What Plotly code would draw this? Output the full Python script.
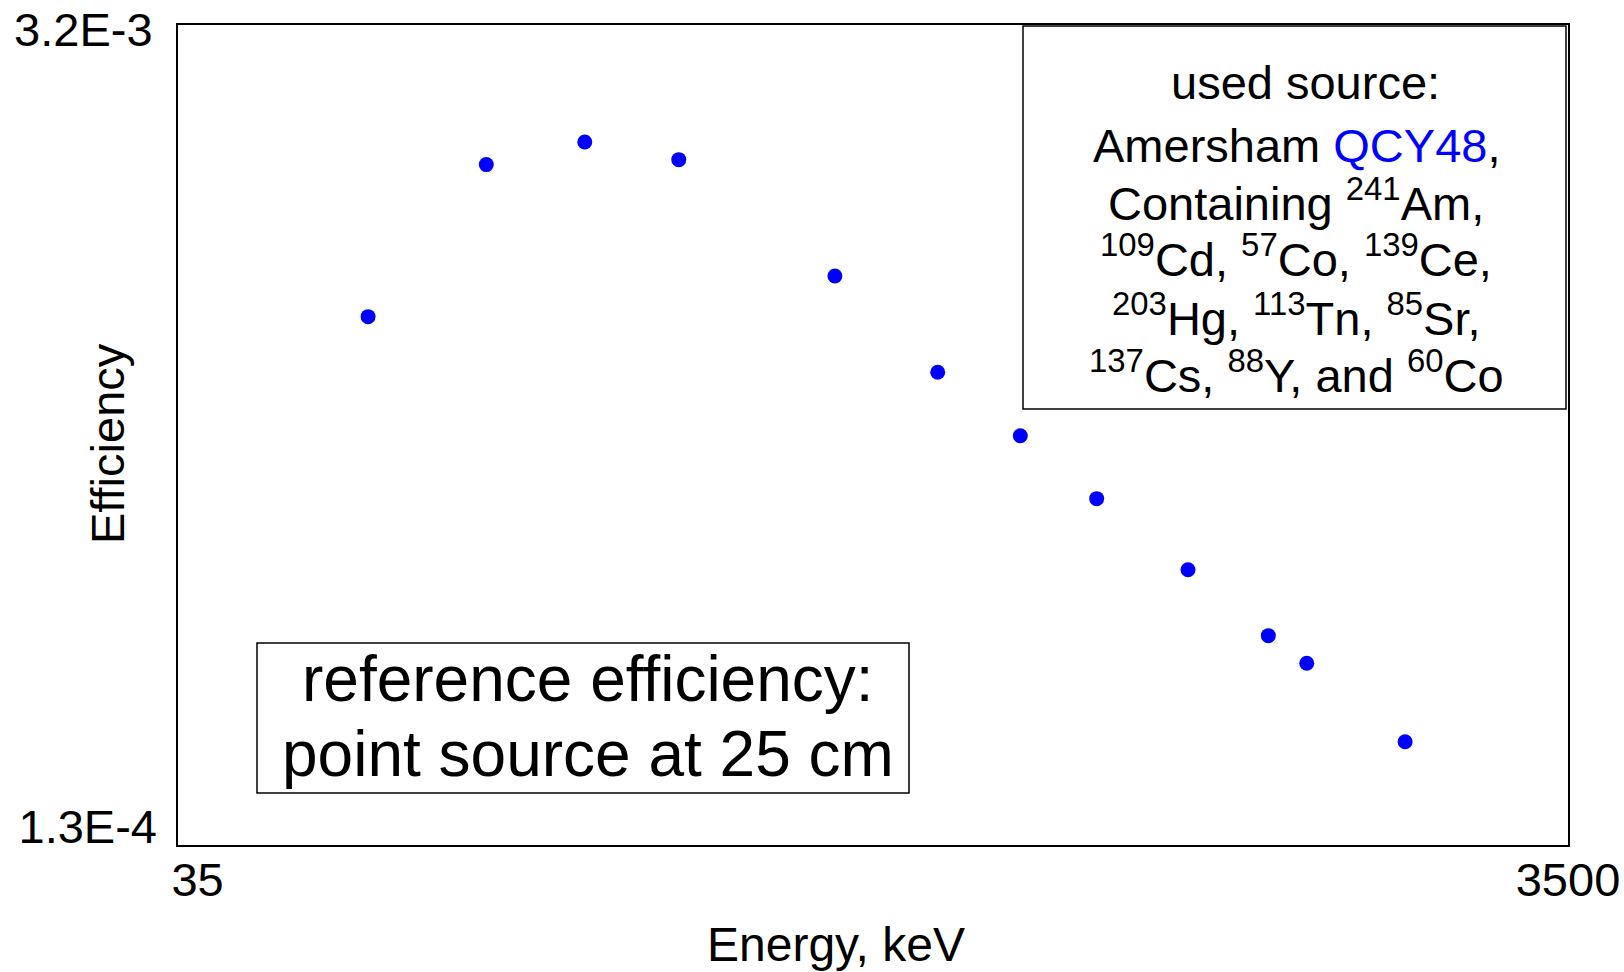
import math
import plotly.graph_objects as go

# ---------------- data ----------------
energy_kev = [65.7, 97.2, 134.7, 183.9, 308.5, 433.7, 570.2, 734.4,
              993.8, 1296.8, 1472.9, 2040.3]
efficiency = [1.024e-3, 1.855e-3, 2.026e-3, 1.891e-3, 1.200e-3, 8.24e-4,
              6.43e-4, 5.03e-4, 3.81e-4, 2.945e-4, 2.644e-4, 1.946e-4]

x_range = [35, 3500]
y_range = [1.3e-4, 3.2e-3]
x_tick_labels = ["35", "3500"]
y_tick_labels = ["1.3E-4", "3.2E-3"]
x_title = "Energy, keV"
y_title = "Efficiency"

source_lines = [
    "used source:",
    "Amersham <span style='color:#0000ff'>QCY48</span>,",
    "Containing <sup>241</sup>Am,",
    "<sup>109</sup>Cd, <sup>57</sup>Co, <sup>139</sup>Ce,",
    "<sup>203</sup>Hg, <sup>113</sup>Tn, <sup>85</sup>Sr,",
    "<sup>137</sup>Cs, <sup>88</sup>Y, and <sup>60</sup>Co",
]
reference_lines = ["reference efficiency:", "point source at 25 cm"]

# ---------------- layout helpers (pixel -> paper) ----------------
W, H = 1624, 972
L, R, T, B = 178, 1568, 25, 845
FONT = "Liberation Sans, Arial, Helvetica, sans-serif"
EPS = 1e-6


def px(x):
    return (x - L) / (R - L)


def py(y):
    return (B - y) / (B - T)


xr = [math.log10(x_range[0]) - EPS, math.log10(x_range[1]) + EPS]
yr = [math.log10(y_range[0]) - EPS, math.log10(y_range[1]) + EPS]

fig = go.Figure()
fig.add_trace(go.Scatter(
    x=energy_kev, y=efficiency, mode="markers",
    marker=dict(color="#0000ff", size=15, line=dict(width=0)),
    showlegend=False, hoverinfo="x+y",
))

axis_common = dict(
    type="log", showgrid=False, zeroline=False, ticks="", automargin=False,
    ticklabeloverflow="allow",
    tickfont=dict(family=FONT, size=47, color="black"),
)

fig.update_layout(
    width=W, height=H,
    margin=dict(l=L, r=W - R, t=T, b=H - B, pad=0, autoexpand=False),
    paper_bgcolor="white", plot_bgcolor="white",
    font=dict(family=FONT, color="black"),
    xaxis=dict(
        **axis_common,
        range=xr,
        tickvals=x_range,
        ticktext=["\u00a0\u00a0\u00a0" + x_tick_labels[0], x_tick_labels[1]],
        showline=True, mirror=True, linecolor="black", linewidth=2,
        ticklabelstandoff=-7,
    ),
    yaxis=dict(
        **axis_common,
        range=yr,
        tickvals=[y_range[1]],
        ticktext=[y_tick_labels[1]],
        showline=True, mirror=True, linecolor="black", linewidth=2,
        ticklabelstandoff=14,
        ticklabelshift=5,
    ),
    yaxis2=dict(
        **axis_common,
        overlaying="y", anchor="x", side="left",
        range=yr,
        tickvals=[y_range[0]],
        ticktext=[y_tick_labels[0]],
        ticklabelposition="outside top",
        ticklabelshift=14,
        showline=False,
        ticklabelstandoff=20,
    ),
)

# a hidden copy on the overlay axis so that it is drawn
fig.add_trace(go.Scatter(
    x=energy_kev, y=efficiency, mode="markers", yaxis="y2",
    marker=dict(opacity=0), showlegend=False, hoverinfo="skip",
))

# boxes
fig.add_shape(type="rect", xref="paper", yref="paper",
              x0=px(1023), x1=px(1566), y0=py(409), y1=py(26),
              line=dict(color="black", width=1.5), fillcolor="rgba(0,0,0,0)")
fig.add_shape(type="rect", xref="paper", yref="paper",
              x0=px(257), x1=px(909), y0=py(793), y1=py(643),
              line=dict(color="black", width=1.5), fillcolor="rgba(0,0,0,0)")

# source box text, one annotation per line (centre x and baseline in px)
src_fs = 47
src_centers = [1305, 1296, 1296, 1296, 1296, 1296]
src_baselines = [100, 163, 221, 277.5, 336, 393.5]
for txt, cx, bl in zip(source_lines, src_centers, src_baselines):
    fig.add_annotation(
        xref="paper", yref="paper", x=px(cx), y=py(bl + 0.212 * src_fs + 1),
        xanchor="center", yanchor="bottom", showarrow=False, text=txt,
        font=dict(family=FONT, size=src_fs, color="black"),
    )

ref_fs = 64
ref_baselines = [702.5, 777]
for txt, bl in zip(reference_lines, ref_baselines):
    fig.add_annotation(
        xref="paper", yref="paper", x=px(587.5), y=py(bl + 0.212 * ref_fs + 1),
        xanchor="center", yanchor="bottom", showarrow=False, text=txt,
        font=dict(family=FONT, size=ref_fs, color="black"),
    )

# axis titles
fig.add_annotation(
    xref="paper", yref="paper", x=px(836), y=py(961.7 + 0.212 * 48 + 1),
    xanchor="center", yanchor="bottom", showarrow=False, text=x_title,
    font=dict(family=FONT, size=48, color="black"),
)
fig.add_annotation(
    xref="paper", yref="paper", x=px(107), y=py(444),
    xanchor="center", yanchor="middle", showarrow=False, text=y_title,
    textangle=-90, font=dict(family=FONT, size=47, color="black"),
)

fig.write_html("out.html")
